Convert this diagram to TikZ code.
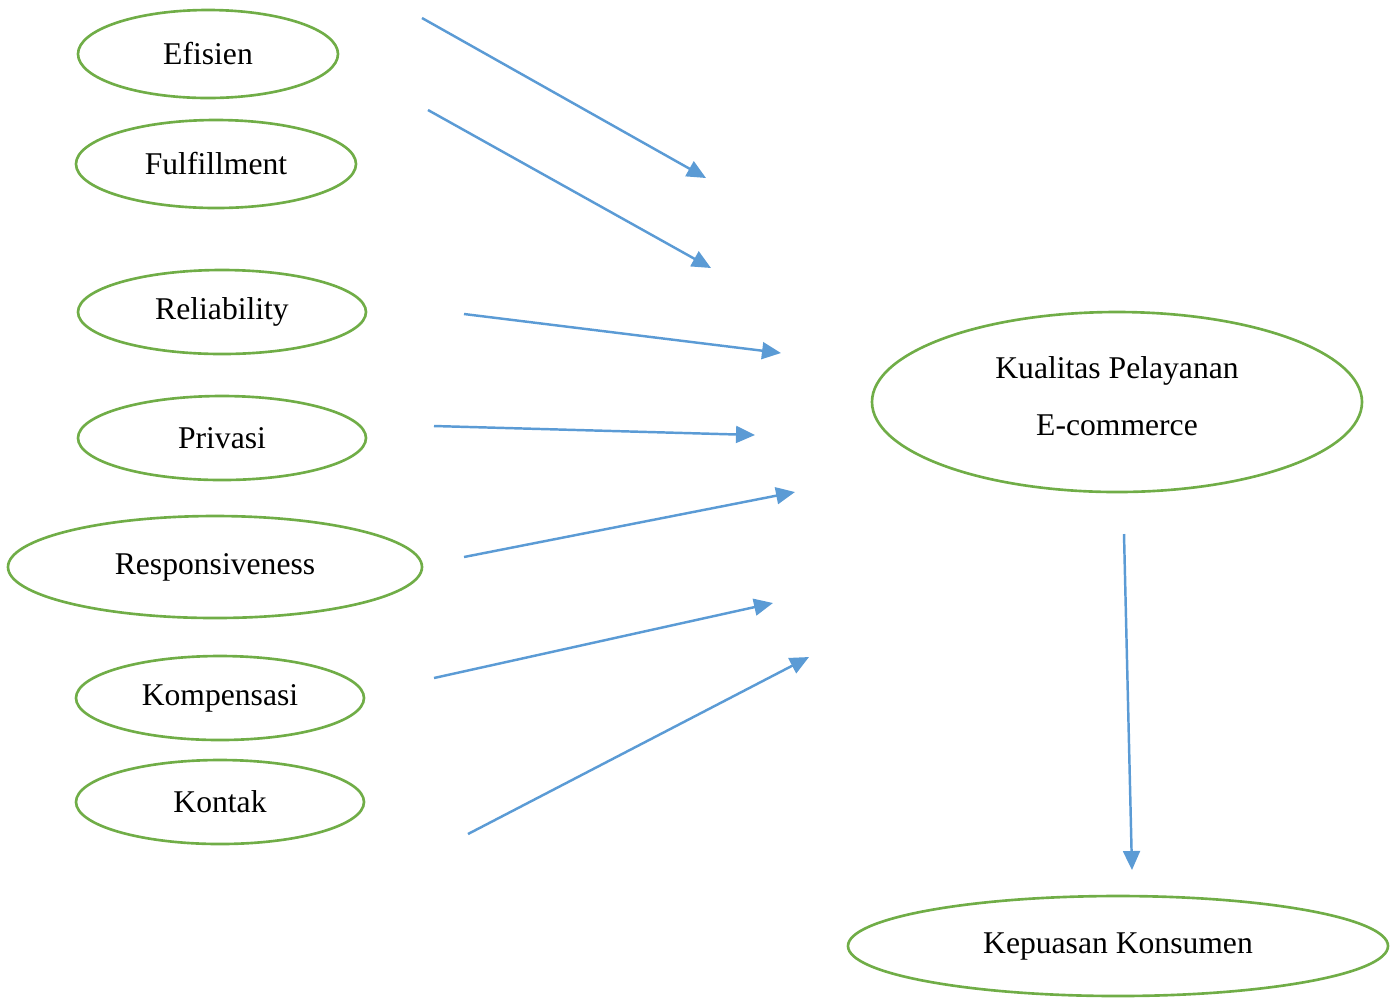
\documentclass[tikz,border=0pt]{standalone}
\usepackage{fontspec}
\setmainfont{Liberation Serif}
\usetikzlibrary{shapes.geometric,arrows.meta}
\definecolor{vargreen}{HTML}{70AD47}
\definecolor{arrowblue}{HTML}{5B9BD5}
\tikzset{
  var/.style={ellipse,draw=vargreen,line width=0.75pt,inner sep=0pt,
    font=\fontsize{9}{16}\selectfont,align=center},
  link/.style={draw=arrowblue,line width=0.7pt,-{Triangle[length=5.4pt,width=4.8pt]}}
}
\begin{document}
\begin{tikzpicture}
\useasboundingbox (0,0) rectangle (13.97,-9.98);
\node[var,minimum width=2.60cm,minimum height=0.88cm] (efisien) at (2.08,-0.54) {Efisien};
\node[var,minimum width=2.80cm,minimum height=0.88cm] (fulfill) at (2.16,-1.64) {Fulfillment};
\node[var,minimum width=2.88cm,minimum height=0.84cm] (reliab) at (2.22,-3.12) {Reliability};
\node[var,minimum width=2.88cm,minimum height=0.84cm] (privasi) at (2.22,-4.38) {Privasi};
\node[var,minimum width=4.14cm,minimum height=1.02cm] (respon) at (2.15,-5.67) {Responsiveness};
\node[var,minimum width=2.88cm,minimum height=0.84cm] (kompen) at (2.20,-6.98) {Kompensasi};
\node[var,minimum width=2.88cm,minimum height=0.84cm] (kontak) at (2.20,-8.02) {Kontak};
\node[var,minimum width=4.90cm,minimum height=1.80cm,text depth=0.12cm] (kualitas) at (11.17,-4.02) {Kualitas Pelayanan\\E-commerce};
\node[var,minimum width=5.40cm,minimum height=1.00cm] (kepuasan) at (11.18,-9.46) {Kepuasan Konsumen};
\coordinate (s1) at (4.22,-0.18);
\coordinate (t1) at (7.06,-1.78);
\coordinate (s2) at (4.28,-1.10);
\coordinate (t2) at (7.11,-2.68);
\coordinate (s3) at (4.64,-3.14);
\coordinate (t3) at (7.81,-3.53);
\coordinate (s4) at (4.34,-4.26);
\coordinate (t4) at (7.55,-4.35);
\coordinate (s5) at (4.64,-5.57);
\coordinate (t5) at (7.95,-4.92);
\coordinate (s6) at (4.34,-6.78);
\coordinate (t6) at (7.73,-6.03);
\coordinate (s7) at (4.68,-8.34);
\coordinate (t7) at (8.09,-6.57);
\coordinate (s8) at (11.24,-5.34);
\coordinate (t8) at (11.32,-8.70);
\draw[link] (s1) -- (t1);
\draw[link] (s2) -- (t2);
\draw[link] (s3) -- (t3);
\draw[link] (s4) -- (t4);
\draw[link] (s5) -- (t5);
\draw[link] (s6) -- (t6);
\draw[link] (s7) -- (t7);
\draw[link] (s8) -- (t8);
\end{tikzpicture}
\end{document}
